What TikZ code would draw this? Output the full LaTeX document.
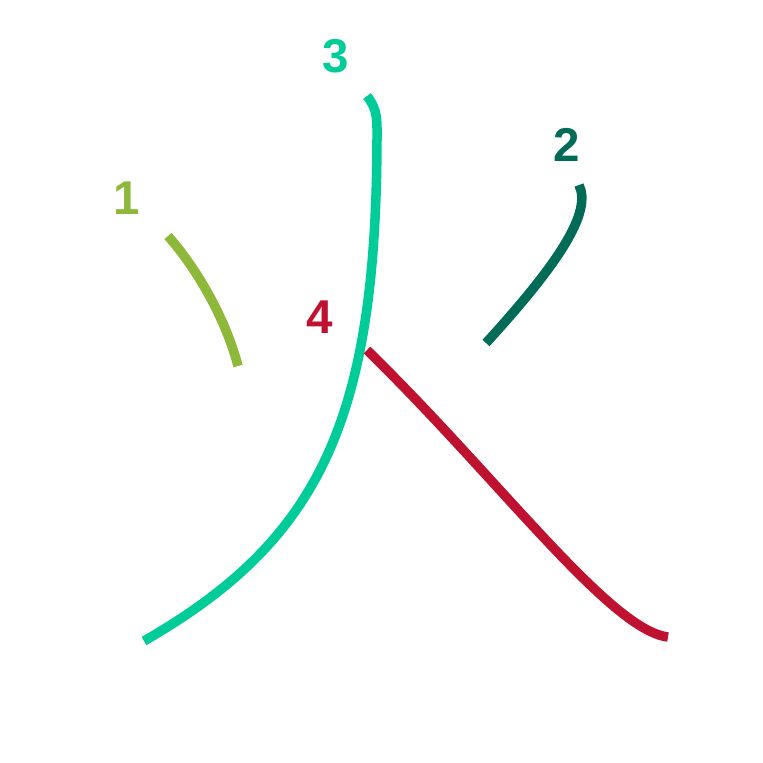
\documentclass[tikz,border=0pt]{standalone}
\usepackage{fontspec}
\setmainfont{Liberation Sans}
\usetikzlibrary{positioning}
\definecolor{strokeone}{HTML}{8DB83A}
\definecolor{stroketwo}{HTML}{006B56}
\definecolor{strokethree}{HTML}{00CC99}
\definecolor{strokefour}{HTML}{BF1230}

\begin{document}
\begin{tikzpicture}[x=0.01cm, y=-0.01cm,
		pen/.style={line width=0.095cm},
		num/.style={font=\bfseries\fontsize{13.5}{13.5}\selectfont, inner sep=0pt}]
	\useasboundingbox (0,0) rectangle (763,763);
	% order numbers
	\node[num, text=strokeone] (numone) at (127,198) {1};
	\node[num, text=stroketwo] (numtwo) at (567,145) {2};
	\node[num, text=strokethree] (numthree) at (336,56) {3};
	\node[num, text=strokefour] (numfour) at (320,317) {4};
	% strokes
	\draw[pen, strokeone] (168,236) .. controls (198,270) and (226,320) .. (238,366);
	\draw[pen, stroketwo] (579,185) .. controls (592,212) and (560,262) .. (486,343);
	\draw[pen, strokethree] (367,96) .. controls (378,110) and (377,120) .. (377,140)
		.. controls (376,420) and (320,540) .. (144,641);
	\draw[pen, strokefour] (367,350) .. controls (500,480) and (610,630) .. (668,637);
\end{tikzpicture}
\end{document}
